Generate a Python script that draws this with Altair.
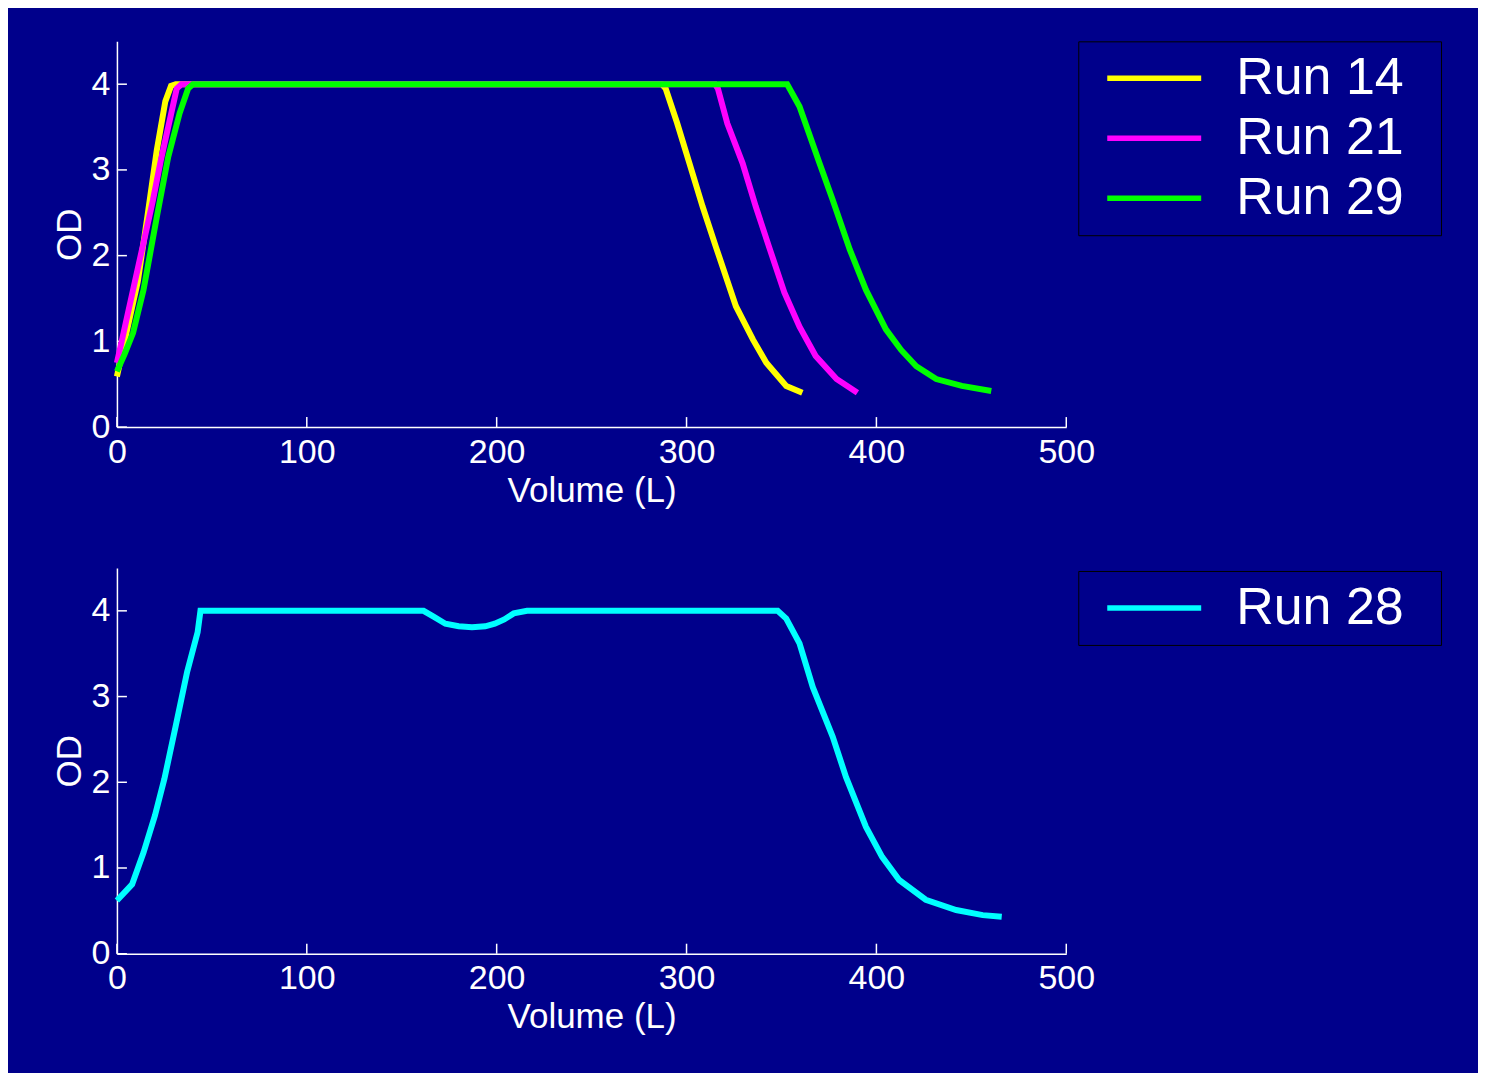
import altair as alt
import pandas as pd

BG = "#00008B"
FONT = "Liberation Sans"

# ---- data ----
run14_vol = [0, 5, 11, 16, 21, 25.5, 28.5, 31, 287, 289, 295, 301.5, 308.5, 315.5, 326, 335, 342, 352.5, 361]
run14_od = [0.59, 1.1, 1.7, 2.45, 3.23, 3.8, 3.98, 4.0, 4.0, 3.95, 3.55, 3.08, 2.57, 2.1, 1.41, 1.02, 0.75, 0.48, 0.40]

run21_vol = [0, 3, 8.5, 14, 19, 23, 27, 31.5, 34, 315, 316.5, 321.5, 329.5, 336.5, 343.5, 351.5, 359.5, 368, 379, 390]
run21_od = [0.75, 1.05, 1.6, 2.15, 2.65, 3.1, 3.5, 3.95, 4.0, 4.0, 3.95, 3.54, 3.08, 2.57, 2.1, 1.57, 1.17, 0.83, 0.56, 0.40]

run29_vol = [0, 4, 8.5, 14, 21, 27, 33, 37.5, 40, 353, 359.5, 370, 377, 386, 394.5, 405, 413, 421, 431.5, 445, 460.5]
run29_od = [0.65, 0.85, 1.1, 1.6, 2.45, 3.15, 3.66, 3.95, 4.0, 4.0, 3.74, 3.08, 2.65, 2.07, 1.6, 1.14, 0.9, 0.71, 0.56, 0.48, 0.42]

run28_vol = [0, 8, 14, 20, 25, 31, 37, 42.5, 44, 161.5, 167, 173, 180, 187, 194, 199, 204, 209, 216,
             348, 352.5, 359.5, 366.5, 377, 384, 394.5, 403, 412, 426, 442, 456, 466]
run28_od = [0.62, 0.81, 1.18, 1.61, 2.04, 2.66, 3.29, 3.75, 4.0, 4.0, 3.93, 3.85, 3.82, 3.81, 3.82, 3.85, 3.9, 3.97, 4.0,
            4.0, 3.91, 3.62, 3.11, 2.53, 2.06, 1.48, 1.13, 0.86, 0.63, 0.51, 0.45, 0.43]

top_names = ["Run 14", "Run 21", "Run 29"]
top_colors = ["#FFFF00", "#FF00FF", "#00FF00"]
bottom_names = ["Run 28"]
bottom_colors = ["#00FFFF"]

x_ticks = [0, 100, 200, 300, 400, 500]
y_ticks = [0, 1, 2, 3, 4]


def build(names, vols, ods):
    rows = []
    for n, vs, os_ in zip(names, vols, ods):
        for i, (v, o) in enumerate(zip(vs, os_)):
            rows.append({"run": n, "vol": v, "od": o, "idx": i})
    return pd.DataFrame(rows)


top_df = build(top_names, [run14_vol, run21_vol, run29_vol], [run14_od, run21_od, run29_od])
bottom_df = build(bottom_names, [run28_vol], [run28_od])

W = 950
H1 = 386
H2 = 386
TICK = 10

xscale = alt.Scale(domain=[0, 500], nice=False, zero=False)
yscale = alt.Scale(domain=[0, 4.5], nice=False, zero=False)

x_axis = alt.Axis(values=x_ticks, ticks=False, grid=False, domainColor="white", domainWidth=1.5,
                  labelColor="white", labelFontSize=34, labelFont=FONT, labelPadding=8, labelFlush=False,
                  title="Volume (L)", titleColor="white", titleFontSize=35, titleFont=FONT,
                  titleFontWeight="normal", titlePadding=4)
y_axis = alt.Axis(values=y_ticks, ticks=False, grid=False, domainColor="white", domainWidth=1.5,
                  labelColor="white", labelFontSize=34, labelFont=FONT, labelPadding=7, labelFlush=False,
                  title="OD", titleColor="white", titleFontSize=35, titleFont=FONT,
                  titleFontWeight="normal", titlePadding=4)


def panel(df, names, colors, H, legend_y):
    legend = alt.Legend(orient="none", legendX=962, legendY=legend_y,
                        title="\u00a0", titleOrient="right", titlePadding=26, titleFontSize=1,
                        titleColor=BG,
                        strokeColor="black", fillColor=BG, padding=11,
                        labelFont=FONT, labelFontSize=52, labelColor="white", labelOffset=32,
                        symbolType="stroke", symbolSize=8836, symbolStrokeWidth=5.5, symbolOffset=15,
                        clipHeight=52, rowPadding=8, labelLimit=400)
    lines = alt.Chart(df).mark_line(strokeWidth=6).encode(
        x=alt.X("vol:Q", scale=xscale, axis=x_axis),
        y=alt.Y("od:Q", scale=yscale, axis=y_axis),
        color=alt.Color("run:N", scale=alt.Scale(domain=names, range=colors), legend=legend),
        order="idx:Q",
    )
    xt = alt.Chart(pd.DataFrame({"t": x_ticks})).mark_rule(color="white", strokeWidth=1.5).encode(
        x=alt.X("t:Q", scale=xscale, axis=x_axis),
        y=alt.value(H), y2=alt.value(H - TICK),
    )
    yt = alt.Chart(pd.DataFrame({"t": y_ticks})).mark_rule(color="white", strokeWidth=1.5).encode(
        y=alt.Y("t:Q", scale=yscale, axis=y_axis),
        x=alt.value(0), x2=alt.value(TICK),
    )
    return alt.layer(xt, yt, lines).properties(width=W, height=H)


top = panel(top_df, top_names, top_colors, H1, 0)
bottom = panel(bottom_df, bottom_names, bottom_colors, H2, 3)

chart = alt.vconcat(top, bottom, spacing=60).resolve_scale(color="independent").properties(
    background=BG,
    padding={"left": 44, "top": 32, "right": 36, "bottom": 38},
).configure_view(stroke=None)

chart.save("out.html", embed_options={"renderer": "svg", "actions": False})
